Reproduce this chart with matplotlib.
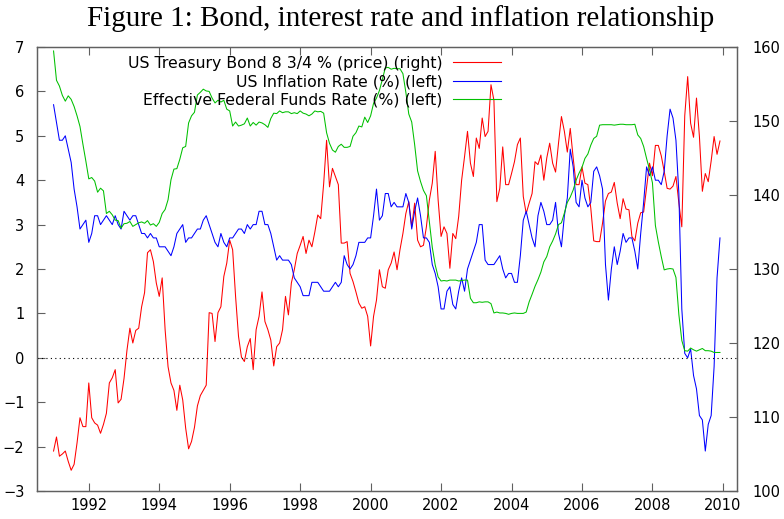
import numpy as np
import matplotlib
matplotlib.use("Agg")
import matplotlib.pyplot as plt
from matplotlib.lines import Line2D

# monthly data, Jan 1991 - Dec 2009

# US Treasury Bond 8 3/4 % price (right axis)
bond_price = [
    105.4, 107.3, 104.7, 105.0, 105.4, 104.0, 102.8, 103.6, 106.5, 109.9, 108.7, 108.7,  # 1991
    114.6, 109.9, 109.2, 108.9, 107.8, 109.0, 110.5, 114.6, 115.3, 116.4, 111.9, 112.4,  # 1992
    115.2, 119.0, 122.0, 120.0, 121.7, 122.0, 124.9, 126.8, 132.2, 132.6, 131.0, 128.1,  # 1993
    126.3, 128.8, 121.8, 116.8, 114.6, 113.6, 110.9, 114.3, 112.3, 108.5, 105.7, 106.7,  # 1994
    108.6, 111.5, 112.9, 113.6, 114.3, 124.1, 124.0, 120.2, 124.1, 124.9, 129.0, 130.8,  # 1995
    133.9, 132.6, 126.3, 120.9, 118.1, 117.5, 119.5, 120.6, 116.4, 121.8, 123.6, 126.9,  # 1996
    122.9, 121.8, 120.4, 116.9, 119.5, 120.0, 121.8, 126.3, 123.8, 128.1, 129.9, 132.1,  # 1997
    133.2, 134.4, 132.1, 133.9, 133.0, 135.0, 137.3, 136.8, 141.5, 147.4, 141.1, 143.6,  # 1998
    142.5, 141.4, 133.5, 133.5, 133.7, 129.4, 128.3, 126.9, 125.4, 124.7, 124.9, 123.6,  # 1999
    119.6, 123.6, 125.8, 129.9, 127.6, 127.4, 129.9, 130.8, 132.3, 129.9, 132.6, 134.8,  # 2000
    137.5, 139.1, 135.7, 138.9, 133.9, 133.0, 133.2, 135.7, 139.3, 141.6, 145.9, 139.3,  # 2001
    134.4, 135.7, 134.8, 130.1, 134.8, 134.1, 137.1, 142.0, 145.2, 148.6, 144.3, 142.5,  # 2002
    147.7, 146.3, 150.4, 147.9, 148.6, 154.9, 152.8, 139.1, 140.9, 146.5, 141.4, 141.4,  # 2003
    142.9, 144.5, 146.8, 147.7, 139.8, 137.5, 138.9, 140.2, 144.5, 144.1, 145.4, 142.0,  # 2004
    145.0, 147.0, 144.3, 143.1, 147.0, 150.6, 148.6, 145.8, 149.0, 145.0, 141.4, 141.4,  # 2005
    143.8, 141.6, 141.4, 138.2, 133.8, 133.7, 133.7, 136.2, 139.2, 140.2, 140.4, 141.7,  # 2006
    138.9, 136.8, 139.5, 138.1, 138.0, 134.4, 133.8, 136.2, 137.6, 137.7, 141.0, 144.3,  # 2007
    142.6, 146.7, 146.7, 145.3, 143.2, 140.9, 140.8, 141.2, 142.5, 138.9, 135.7, 150.7,  # 2008
    156.0, 149.7, 147.8, 153.1, 147.9, 140.5, 142.9, 141.8, 144.6, 147.9, 145.5, 147.3,  # 2009
]

# US inflation rate, % (left axis)
inflation = [
    5.7, 5.3, 4.9, 4.9, 5.0, 4.7, 4.4, 3.8, 3.4, 2.9, 3.0, 3.1,
    2.6, 2.8, 3.2, 3.2, 3.0, 3.1, 3.2, 3.1, 3.0, 3.2, 3.0, 2.9,
    3.3, 3.2, 3.1, 3.2, 3.2, 3.0, 2.8, 2.8, 2.7, 2.8, 2.7, 2.7,
    2.5, 2.5, 2.5, 2.4, 2.3, 2.5, 2.8, 2.9, 3.0, 2.6, 2.7, 2.7,
    2.8, 2.9, 2.9, 3.1, 3.2, 3.0, 2.8, 2.6, 2.5, 2.8, 2.6, 2.5,
    2.7, 2.7, 2.8, 2.9, 2.9, 2.8, 3.0, 2.9, 3.0, 3.0, 3.3, 3.3,
    3.0, 3.0, 2.8, 2.5, 2.2, 2.3, 2.2, 2.2, 2.2, 2.1, 1.8, 1.7,
    1.6, 1.4, 1.4, 1.4, 1.7, 1.7, 1.7, 1.6, 1.5, 1.5, 1.5, 1.6,
    1.7, 1.6, 1.7, 2.3, 2.1, 2.0, 2.1, 2.3, 2.6, 2.6, 2.6, 2.7,
    2.7, 3.2, 3.8, 3.1, 3.2, 3.7, 3.7, 3.4, 3.5, 3.4, 3.4, 3.4,
    3.7, 3.5, 2.9, 3.3, 3.6, 3.2, 2.7, 2.7, 2.6, 2.1, 1.9, 1.6,
    1.1, 1.1, 1.5, 1.6, 1.2, 1.1, 1.5, 1.8, 1.5, 2.0, 2.2, 2.4,
    2.6, 3.0, 3.0, 2.2, 2.1, 2.1, 2.1, 2.2, 2.3, 2.0, 1.8, 1.9,
    1.9, 1.7, 1.7, 2.3, 3.1, 3.3, 3.0, 2.7, 2.5, 3.2, 3.5, 3.3,
    3.0, 3.0, 3.1, 3.5, 2.8, 2.5, 3.2, 3.6, 4.7, 4.3, 3.5, 3.4,
    4.0, 3.6, 3.4, 3.5, 4.2, 4.3, 4.1, 3.8, 2.1, 1.3, 2.0, 2.5,
    2.1, 2.4, 2.8, 2.6, 2.7, 2.7, 2.4, 2.0, 2.8, 3.5, 4.3, 4.1,
    4.3, 4.0, 4.0, 3.9, 4.2, 5.0, 5.6, 5.4, 4.9, 3.7, 1.1, 0.1,
    0.0, 0.2, -0.4, -0.7, -1.3, -1.4, -2.1, -1.5, -1.3, -0.2, 1.8, 2.7,
]

# effective federal funds rate, % (left axis)
fed_funds = [
    6.91, 6.25, 6.12, 5.91, 5.78, 5.90, 5.82, 5.66, 5.45, 5.21, 4.81, 4.43,
    4.03, 4.06, 3.98, 3.73, 3.82, 3.76, 3.25, 3.30, 3.22, 3.10, 3.09, 2.92,
    3.02, 3.03, 3.07, 2.96, 3.00, 3.04, 3.06, 3.03, 3.09, 2.99, 3.02, 2.96,
    3.05, 3.25, 3.34, 3.56, 4.01, 4.25, 4.26, 4.47, 4.73, 4.76, 5.29, 5.45,
    5.53, 5.92, 5.98, 6.05, 6.01, 6.00, 5.85, 5.74, 5.80, 5.76, 5.80, 5.60,
    5.56, 5.22, 5.31, 5.22, 5.24, 5.27, 5.40, 5.22, 5.30, 5.24, 5.31, 5.29,
    5.25, 5.19, 5.39, 5.51, 5.50, 5.56, 5.52, 5.54, 5.54, 5.50, 5.52, 5.50,
    5.56, 5.51, 5.49, 5.45, 5.49, 5.56, 5.54, 5.55, 5.51, 5.07, 4.83, 4.68,
    4.63, 4.76, 4.81, 4.74, 4.74, 4.76, 4.99, 5.07, 5.22, 5.20, 5.42, 5.30,
    5.45, 5.73, 5.85, 6.02, 6.27, 6.53, 6.54, 6.50, 6.52, 6.51, 6.51, 6.40,
    5.98, 5.49, 5.31, 4.80, 4.21, 3.97, 3.77, 3.65, 3.07, 2.49, 2.09, 1.82,
    1.73, 1.74, 1.73, 1.75, 1.75, 1.75, 1.73, 1.74, 1.75, 1.75, 1.34, 1.24,
    1.24, 1.26, 1.25, 1.26, 1.26, 1.22, 1.01, 1.03, 1.01, 1.01, 1.00, 0.98,
    1.00, 1.01, 1.00, 1.00, 1.00, 1.03, 1.26, 1.43, 1.61, 1.76, 1.93, 2.16,
    2.28, 2.50, 2.63, 2.79, 3.00, 3.04, 3.26, 3.50, 3.62, 3.78, 4.00, 4.16,
    4.29, 4.49, 4.59, 4.79, 4.94, 4.99, 5.24, 5.25, 5.25, 5.25, 5.25, 5.24,
    5.25, 5.26, 5.26, 5.25, 5.25, 5.25, 5.26, 5.02, 4.94, 4.76, 4.49, 4.24,
    3.94, 2.98, 2.61, 2.28, 1.98, 2.00, 2.01, 2.00, 1.81, 0.97, 0.39, 0.16,
    0.15, 0.22, 0.18, 0.15, 0.18, 0.21, 0.16, 0.16, 0.15, 0.12, 0.12, 0.12,
]

labels = ["US Treasury Bond 8 3/4 % (price) (right)",
          "US Inflation Rate (%) (left)",
          "Effective Federal Funds Rate (%) (left)"]
year_ticks = list(range(1992, 2011, 2))

# dates as decimal years
t = 1991 + np.arange(len(bond_price)) / 12.0

RED, BLUE, GREEN = "#ff0000", "#0000ff", "#00c000"
FRAME = "#606060"

fig = plt.figure(figsize=(7.84, 5.19), dpi=100)
ax = fig.add_axes([37 / 784, 1 - 491 / 519, 700 / 784, 444 / 519])
ax2 = ax.twinx()
# red behind the other two, like gnuplot draws it first
ax2.set_zorder(ax.get_zorder() - 1)
ax.patch.set_visible(False)

ax2.plot(t, bond_price, color=RED, lw=0.75)
ax.plot(t, inflation, color=BLUE, lw=0.75)
ax.plot(t, fed_funds, color=GREEN, lw=0.75)
ax.axhline(0, color="black", lw=0.8, ls=(0, (1, 3)))

ax.set_xlim(1990.53, 2010.4)
ax.set_ylim(-3, 7)
ax2.set_ylim(100, 160)
ax.set_xticks(year_ticks)
ax.set_yticks(range(-3, 8))
ax2.set_yticks(range(100, 161, 10))

ax.tick_params(axis="x", direction="in", top=True, length=5.5, width=0.8,
               color=FRAME, labelsize=10.5, pad=5)
ax.tick_params(axis="y", direction="in", length=5.5, width=0.8,
               color=FRAME, labelsize=10.5, pad=9)
ax2.tick_params(axis="y", direction="in", length=5.5, width=0.8,
                color=FRAME, labelsize=10.5, pad=11)
for a in (ax, ax2):
    for s in a.spines.values():
        s.set_color(FRAME)
        s.set_linewidth(0.9)

handles = [Line2D([], [], color=c, lw=0.8) for c in (RED, BLUE, GREEN)]
ax.legend(handles, labels, loc="upper right", bbox_to_anchor=(0.6624, 0.98),
          frameon=False, markerfirst=False, fontsize=11.3, handlelength=3.06,
          handletextpad=0.64, labelspacing=0.2, borderpad=0, borderaxespad=0)

fig.text(401 / 784, 1 - 19 / 519, "Figure 1: Bond, interest rate and inflation relationship",
         ha="center", va="center", family="Liberation Serif", fontsize=21)

fig.savefig("out.png", dpi=100)
